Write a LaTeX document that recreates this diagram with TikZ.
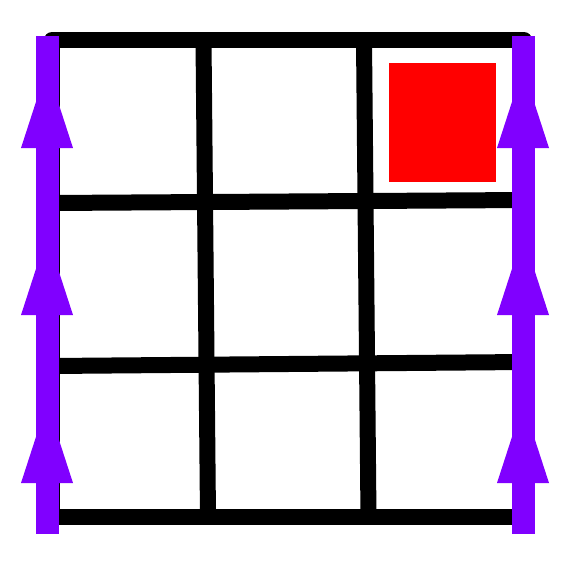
\documentclass[tikz,border=0pt]{standalone}
\begin{document}
\begin{tikzpicture}[x=1pt,y=-1pt,
  gridline/.style={line width=16pt,black},
  frameline/.style={line width=16pt,black,line cap=round,line join=round},
  glueline/.style={line width=23pt,draw=violetline},
  gluehead/.style={fill=violetline,draw=none}]
\definecolor{violetline}{RGB}{128,0,255}
\useasboundingbox (0,0) rectangle (574,574);
% red square
\fill[red] (389,63) rectangle (496,182);
% inner grid lines
\draw[gridline] (52,203) -- (524,200);
\draw[gridline] (52,366) -- (524,362);
\draw[gridline] (203.5,40) -- (208,517);
\draw[gridline] (364,40) -- (368.5,517);
% frame
\draw[frameline] (52,517) -- (52,40) -- (524,40) -- (524,517);
\draw[gridline] (52,517) -- (524,517);
% glued edges with arrows
\foreach \x in {47,523}{
  \draw[glueline] (\x,36) -- (\x,534);
  \foreach \b in {148,315,483}{
    \fill[gluehead] (\x-26,\b) -- (\x+26,\b) -- (\x,\b-80) -- cycle;
  }
}
\end{tikzpicture}
\end{document}
